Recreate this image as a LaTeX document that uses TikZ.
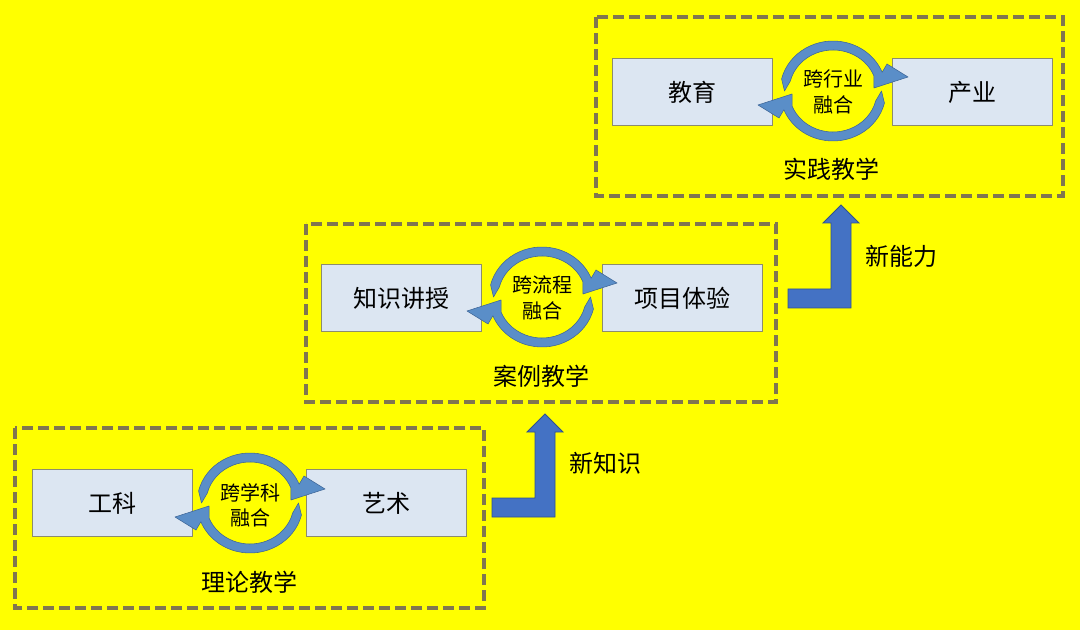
\documentclass[tikz,border=0pt]{standalone}
\usepackage{fontspec}
\setmainfont{Noto Sans CJK SC}
\usetikzlibrary{arrows.meta,positioning}

\definecolor{bgyellow}{RGB}{255,255,0}
\definecolor{dashline}{RGB}{128,118,80}
\definecolor{boxfill}{RGB}{220,230,242}
\definecolor{boxline}{RGB}{140,140,110}
\definecolor{cycblue}{RGB}{90,142,200}
\definecolor{cycline}{RGB}{60,100,150}
\definecolor{stepblue}{RGB}{68,114,196}
\definecolor{stepline}{RGB}{47,82,143}

\begin{document}
\begin{tikzpicture}[x=0.75pt, y=0.75pt,
    stagebox/.style={draw=dashline, line width=2.6pt, dash pattern=on 8pt off 4pt},
    fieldbox/.style={draw=boxline, fill=boxfill, minimum width=120pt, minimum height=50pt,
                     font=\fontsize{18}{20}\selectfont},
    mixtext/.style={align=center, font=\fontsize{15}{19}\selectfont, inner sep=0pt},
    stagename/.style={font=\fontsize{18}{20}\selectfont, inner sep=0pt},
    cycarrow/.style={fill=cycblue, draw=cycline, line width=0.4pt, line join=round},
    uparrow/.style={fill=stepblue, draw=stepline, line width=0.6pt}
]
    % background
    \fill[bgyellow] (0,0) rectangle (1080,-630);

    % the three stages
    \draw[stagebox] (15,-428) rectangle (484,-608);
    \draw[stagebox] (306,-224) rectangle (776,-402);
    \draw[stagebox] (596,-17) rectangle (1063,-196);

    % stage 1
    \node[fieldbox] (gongke) at (112,-503) {工科};
    \node[fieldbox] (yishu) at (386,-503) {艺术};
    \node[stagename] (theory) at (249,-582) {理论教学};

    % stage 2
    \node[fieldbox] (teach) at (401,-298) {知识讲授};
    \node[fieldbox] (project) at (682,-298) {项目体验};
    \node[stagename] (cases) at (541,-376) {案例教学};

    % stage 3
    \node[fieldbox] (edu) at (692,-92) {教育};
    \node[fieldbox] (industry) at (972,-92) {产业};
    \node[stagename] (practice) at (831,-169) {实践教学};

    % circular arrows
    \foreach \cx/\cy in {250/-503, 542/-297, 833/-91} {
        \begin{scope}[shift={(\cx,\cy)}]
            \filldraw[cycarrow] (180:48.5 and 45.5) -- (166:53 and 50)
                arc[start angle=166, end angle=22, x radius=53, y radius=50]
                -- (54,27) -- (75,14) -- (41,3) -- (22:44 and 41)
                arc[start angle=22, end angle=166, x radius=44, y radius=41] -- cycle;
            \filldraw[cycarrow] (0:48.5 and 45.5) -- (-14:53 and 50)
                arc[start angle=-14, end angle=-158, x radius=53, y radius=50]
                -- (-54,-27) -- (-75,-14) -- (-41,-3) -- (-158:44 and 41)
                arc[start angle=-158, end angle=-14, x radius=44, y radius=41] -- cycle;
        \end{scope}
    }
    \node[mixtext] (mix1) at (250,-505) {跨学科\\融合};
    \node[mixtext] (mix2) at (542,-298) {跨流程\\融合};
    \node[mixtext] (mix3) at (833,-92) {跨行业\\融合};

    % step arrows between stages
    \foreach \dx/\dy in {0/0, 296/209} {
        \filldraw[uparrow, shift={(\dx,\dy)}]
            (492,-498) -- (535,-498) -- (535,-432) -- (527,-432) -- (545,-414)
            -- (563,-432) -- (555,-432) -- (555,-517) -- (492,-517) -- cycle;
    }
    \node[stagename] (newknow) at (605,-463) {新知识};
    \node[stagename] (newskill) at (901,-256) {新能力};
\end{tikzpicture}
\end{document}
